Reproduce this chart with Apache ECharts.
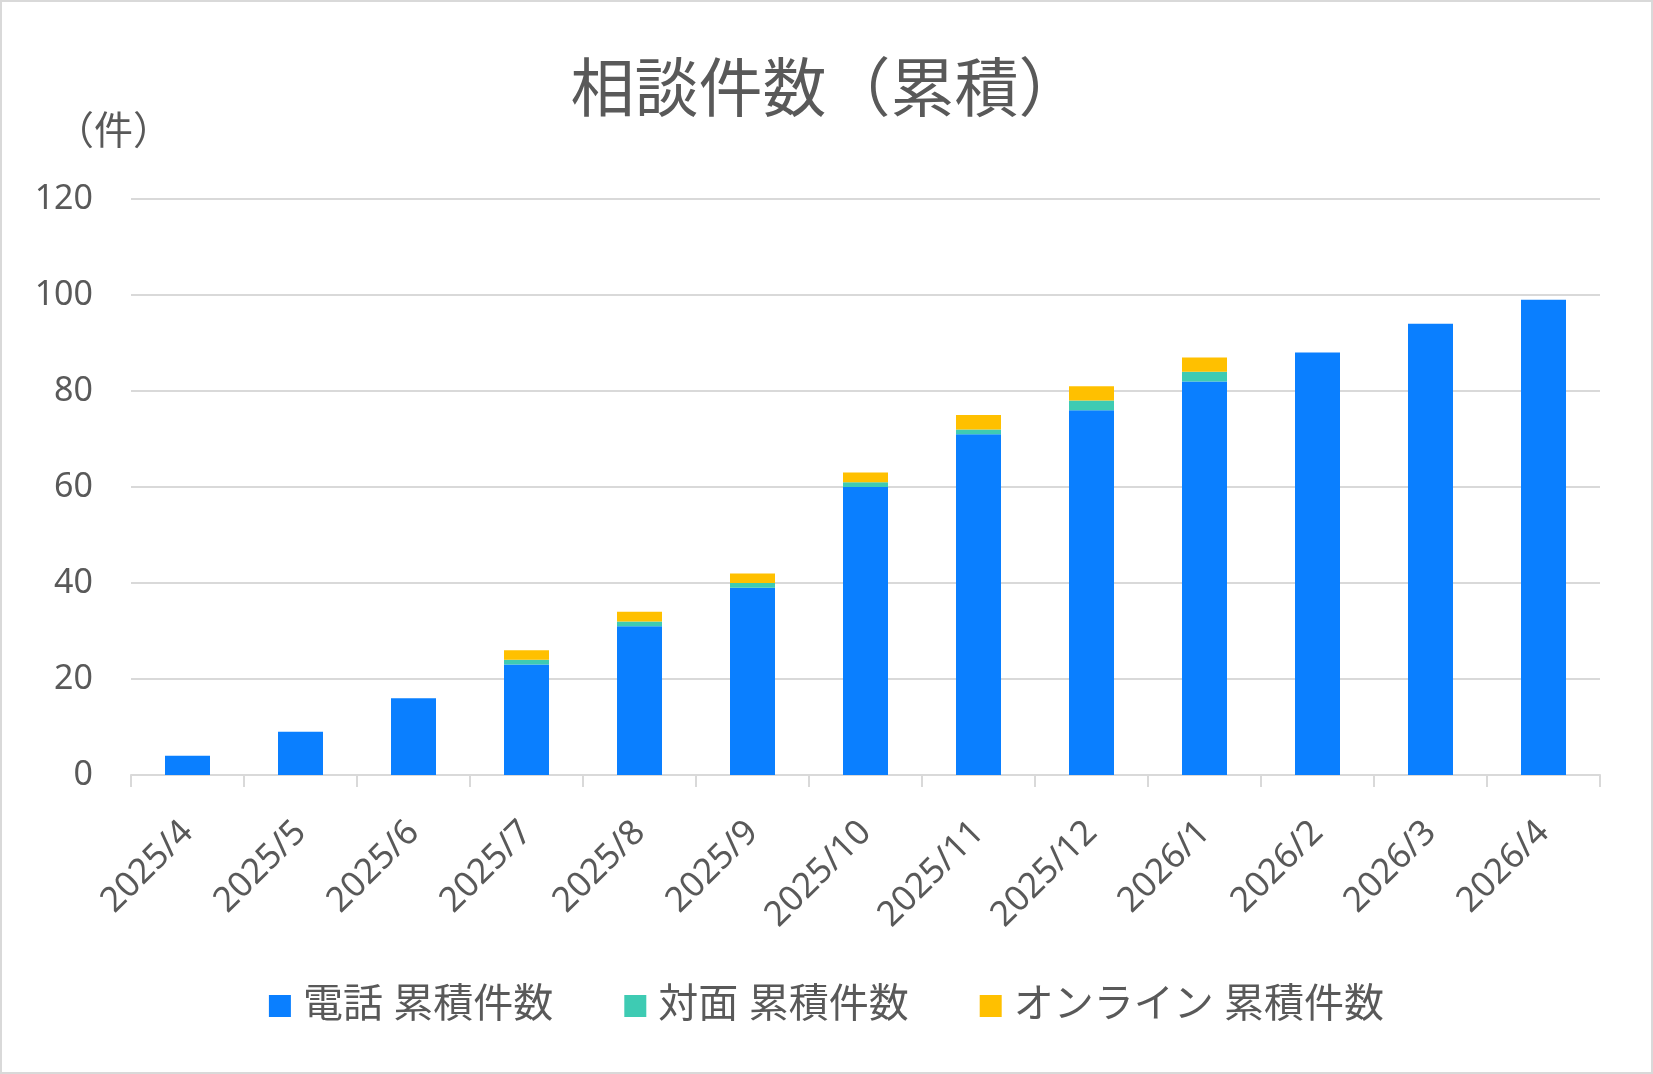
<!DOCTYPE html>
<html>
<head>
<meta charset="utf-8">
<script src="https://cdn.jsdelivr.net/npm/echarts@6/dist/echarts.min.js"></script>
<style>
  html, body { margin: 0; padding: 0; background: #fff; }
  #frame { position: absolute; left: 0; top: 0; width: 1653px; height: 1074px; box-sizing: border-box; border: 2px solid #d9d9d9; background:#fff; }
  #chart { position: absolute; left: 0; top: 0; width: 1653px; height: 1074px; }
</style>
</head>
<body>
<div id="frame"></div>
<div id="chart"></div>
<script>
const categories = ['2025/4','2025/5','2025/6','2025/7','2025/8','2025/9','2025/10','2025/11','2025/12','2026/1','2026/2','2026/3','2026/4'];
const phoneValues  = [4, 9, 16, 23, 31, 39, 60, 71, 76, 82, 88, 94, 99];
const faceValues   = [0, 0, 0, 1, 1, 1, 1, 1, 2, 2, 0, 0, 0];
const onlineValues = [0, 0, 0, 2, 2, 2, 2, 3, 3, 3, 0, 0, 0];
const seriesNames = ['電話 累積件数', '対面 累積件数', 'オンライン 累積件数'];
const titleText = '相談件数（累積）';
const unitText = '（件）';

const FONT = "'Noto Sans', 'Noto Sans CJK JP', sans-serif";
const TXT = '#595959';
const chart = echarts.init(document.getElementById('chart'), null, {renderer: 'canvas'});
function toData(arr) { return arr.map(v => v === 0 ? null : v); }
chart.setOption({
  backgroundColor: 'transparent',
  animation: false,
  textStyle: { fontFamily: FONT, color: TXT },
  title: [
    { text: titleText, left: 'center', top: 56, textStyle: { fontFamily: FONT, fontSize: 64, fontWeight: 'normal', color: TXT } },
    { text: unitText, left: 50, top: 108, textStyle: { fontFamily: FONT, fontSize: 39, fontWeight: 'normal', color: TXT } }
  ],
  legend: {
    bottom: 43,
    left: 'center',
    itemWidth: 22,
    itemHeight: 22,
    itemGap: 71,
    icon: 'rect',
    textStyle: { fontFamily: FONT, fontSize: 40, color: TXT, padding: [0, 0, 0, 7] },
    data: seriesNames
  },
  grid: { left: 131, right: 53, top: 199, bottom: 299, containLabel: false },
  xAxis: {
    type: 'category',
    data: categories,
    boundaryGap: true,
    axisLine: { lineStyle: { color: '#d9d9d9', width: 2 } },
    axisTick: { show: true, length: 12, lineStyle: { color: '#d9d9d9', width: 2 } },
    axisLabel: { rotate: 45, margin: 52, fontSize: 35, color: TXT, fontFamily: FONT, interval: 0 }
  },
  yAxis: {
    type: 'value',
    min: 0, max: 120, interval: 20,
    axisLine: { show: false },
    axisTick: { show: false },
    splitLine: { lineStyle: { color: '#d9d9d9', width: 2 } },
    axisLabel: { margin: 38, fontSize: 34, color: TXT, fontFamily: FONT }
  },
  series: [
    { name: seriesNames[0], type: 'bar', stack: 'total', barWidth: 45, data: toData(phoneValues), itemStyle: { color: '#0A7FFF' } },
    { name: seriesNames[1], type: 'bar', stack: 'total', barWidth: 45, data: toData(faceValues), itemStyle: { color: '#3ECBB3' } },
    { name: seriesNames[2], type: 'bar', stack: 'total', barWidth: 45, data: toData(onlineValues), itemStyle: { color: '#FFC000' } }
  ]
});
</script>
</body>
</html>
